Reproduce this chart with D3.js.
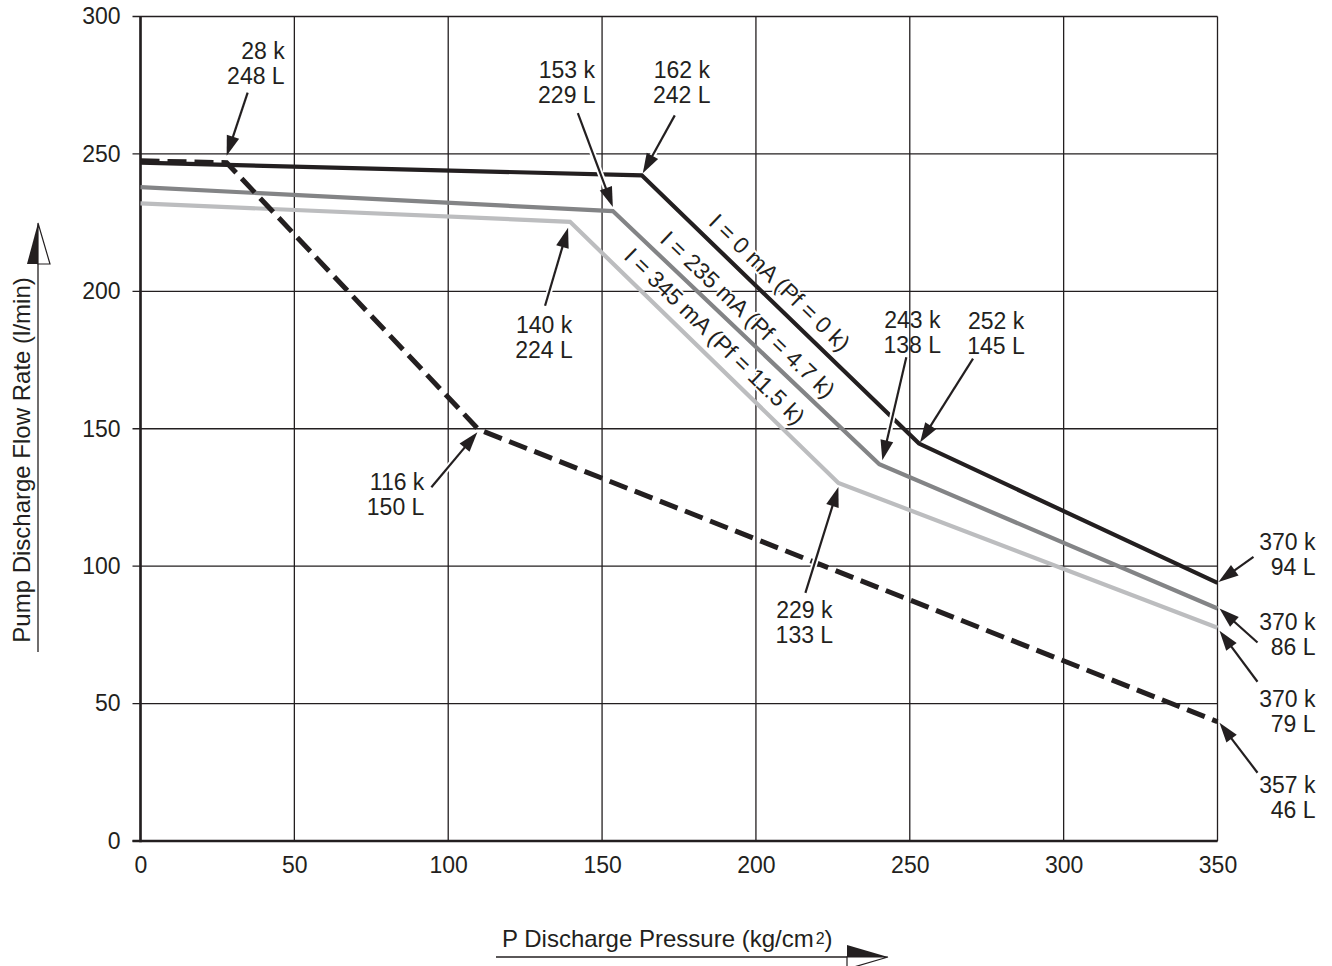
<!DOCTYPE html>
<html>
<head>
<meta charset="utf-8">
<script src="https://cdn.jsdelivr.net/npm/d3@7"></script>
<style>
  body { margin: 0; background: #fff; }
  svg { display: block; }
  text { font-family: "Liberation Sans", Arial, Helvetica, sans-serif; fill: #231f20; }
</style>
</head>
<body>
<svg id="chart" width="1332" height="966"></svg>
<script>
// ---- data ----
const pressureTicks = [0, 50, 100, 150, 200, 250, 300, 350];
const flowTicks = [0, 50, 100, 150, 200, 250, 300];

const curveNames = ["I = 0 mA (Pf = 0 k)", "I = 235 mA (Pf = 4.7 k)", "I = 345 mA (Pf = 11.5 k)"];

// flow (l/min) against discharge pressure (kg/cm2), one pair of arrays per curve
const pressure0mA = [0, 162.9, 253.0, 350];
const flow0mA = [246.8, 242.2, 144.6, 93.9];
const pressure235mA = [0, 153.5, 240.1, 350];
const flow235mA = [237.9, 229.2, 137.1, 84.6];
const pressure345mA = [0, 139.6, 226.8, 350];
const flow345mA = [232.0, 225.3, 130.3, 77.6];
const pressureLimit = [0, 28.0, 109.8, 350];
const flowLimit = [247.5, 246.8, 149.8, 43.4];

// callouts: text lines, which curve and which break point they point to
const calloutText = [
  ["28 k", "248 L"], ["162 k", "242 L"], ["153 k", "229 L"], ["140 k", "224 L"],
  ["116 k", "150 L"], ["243 k", "138 L"], ["252 k", "145 L"], ["229 k", "133 L"],
  ["370 k", "94 L"], ["370 k", "86 L"], ["370 k", "79 L"], ["357 k", "46 L"]
];
const calloutCurve = [3, 0, 1, 2, 3, 1, 0, 2, 0, 1, 2, 3];
const calloutPoint = [1, 1, 1, 1, 2, 2, 2, 2, 3, 3, 3, 3];

// ---- layout ----
const INK = "#231f20";
const FONT = 23;
const TITLE_FONT = 24;
const curveStyle = [
  { color: INK, width: 4.2, dash: null },
  { color: "#838486", width: 4.2, dash: null },
  { color: "#bcbdbf", width: 4.2, dash: null },
  { color: INK, width: 5, dash: "19,8" }
];
// pixel offsets from the pointed-at break point: arrow tip, arrow tail, first text baseline
const calloutLayout = [
  { tip: [0, -7], tail: [21, -70], label: [58, -104], anchor: "end" },
  { tip: [1, -2], tail: [33, -60], label: [40, -97], anchor: "middle" },
  { tip: [0, -4], tail: [-35, -98], label: [-46, -133], anchor: "middle" },
  { tip: [-2, 6], tail: [-25, 84], label: [-26, 111], anchor: "middle" },
  { tip: [-1, 3], tail: [-47, 58], label: [-54, 61], anchor: "end" },
  { tip: [3, -4], tail: [27, -107], label: [33, -136], anchor: "middle" },
  { tip: [1, -1], tail: [54, -85], label: [77, -115], anchor: "middle" },
  { tip: [0, 4], tail: [-33, 110], label: [-34, 135], anchor: "middle" },
  { tip: [1, -1], tail: [36, -26], label: [98, -33], anchor: "end" },
  { tip: [2, 0], tail: [40, 34], label: [98, 22], anchor: "end" },
  { tip: [2, 3], tail: [40, 54], label: [98, 79], anchor: "end" },
  { tip: [2, 1], tail: [40, 51], label: [98, 71], anchor: "end" }
];
// position of each curve name along its steep segment (fraction) and distance above it
const curveLabelT = [0.45, 0.46, 0.49];
const curveLabelOffset = [19, 18, 19];

const curves = [
  d3.zip(pressure0mA, flow0mA),
  d3.zip(pressure235mA, flow235mA),
  d3.zip(pressure345mA, flow345mA),
  d3.zip(pressureLimit, flowLimit)
];

const svg = d3.select("#chart");
const x = d3.scaleLinear().domain([0, 350]).range([140.5, 1217.5]);
const y = d3.scaleLinear().domain([0, 300]).range([841, 16.5]);

// ---- grid ----
const grid = svg.append("g").attr("stroke", INK).attr("stroke-width", 1.3);
grid.selectAll("line.h").data(flowTicks).join("line")
  .attr("class", "h")
  .attr("x1", x(0) - 8).attr("x2", x(350))
  .attr("y1", d => y(d)).attr("y2", d => y(d));
grid.selectAll("line.v").data(pressureTicks).join("line")
  .attr("class", "v")
  .attr("x1", d => x(d)).attr("x2", d => x(d))
  .attr("y1", y(300)).attr("y2", y(0));

// ---- axes ----
const yAxis = svg.append("g")
  .attr("transform", `translate(${x(0)},0)`)
  .call(d3.axisLeft(y).tickValues(flowTicks).tickSize(0).tickPadding(20).tickFormat(d3.format("d")));
const xAxis = svg.append("g")
  .attr("transform", `translate(0,${y(0)})`)
  .call(d3.axisBottom(x).tickValues(pressureTicks).tickSize(0).tickPadding(16).tickFormat(d3.format("d")));
[yAxis, xAxis].forEach(a => {
  a.select(".domain").remove();
  a.selectAll("text").attr("font-size", FONT).attr("fill", INK)
    .attr("font-family", "'Liberation Sans', Arial, Helvetica, sans-serif");
});

svg.append("line").attr("stroke", INK).attr("stroke-width", 2.6)
  .attr("x1", x(0)).attr("x2", x(0)).attr("y1", y(300)).attr("y2", y(0) + 1.3);
svg.append("line").attr("stroke", INK).attr("stroke-width", 2.6)
  .attr("x1", x(0) - 8).attr("x2", x(350)).attr("y1", y(0)).attr("y2", y(0));

// ---- curves ----
const line = d3.line().x(d => x(d[0])).y(d => y(d[1]));
const drawOrder = [2, 1, 0, 3];
svg.append("g").selectAll("path").data(drawOrder).join("path")
  .attr("d", i => line(curves[i]))
  .attr("fill", "none")
  .attr("stroke", i => curveStyle[i].color)
  .attr("stroke-width", i => curveStyle[i].width)
  .attr("stroke-dasharray", i => curveStyle[i].dash)
  .attr("stroke-linejoin", "miter")
  .attr("stroke-linecap", "butt");

// ---- curve names along the steep segments ----
curveNames.forEach((name, i) => {
  const c = curves[i];
  const p1 = [x(c[1][0]), y(c[1][1])];
  const p2 = [x(c[2][0]), y(c[2][1])];
  const dx = p2[0] - p1[0], dy = p2[1] - p1[1];
  const len = Math.hypot(dx, dy);
  const ux = dx / len, uy = dy / len;
  const t = curveLabelT[i], off = curveLabelOffset[i];
  const cx = p1[0] + t * dx + off * uy;
  const cy = p1[1] + t * dy - off * ux;
  const ang = Math.atan2(dy, dx) * 180 / Math.PI;
  svg.append("text")
    .attr("transform", `translate(${cx},${cy}) rotate(${ang})`)
    .attr("text-anchor", "middle")
    .attr("dy", "0.35em")
    .attr("font-size", FONT)
    .attr("stroke", "#fff").attr("stroke-width", 4).attr("paint-order", "stroke")
    .text(name);
});

// ---- callouts ----
const callouts = svg.append("g");
calloutText.forEach((lines, k) => {
  const pt = curves[calloutCurve[k]][calloutPoint[k]];
  const px = x(pt[0]), py = y(pt[1]);
  const L = calloutLayout[k];
  const tip = [px + L.tip[0], py + L.tip[1]];
  const tail = [px + L.tail[0], py + L.tail[1]];
  const dx = tip[0] - tail[0], dy = tip[1] - tail[1];
  const len = Math.hypot(dx, dy);
  const ux = dx / len, uy = dy / len;
  const headL = 20, headW = 6.5;
  const base = [tip[0] - headL * ux, tip[1] - headL * uy];

  callouts.append("line")
    .attr("x1", tail[0]).attr("y1", tail[1])
    .attr("x2", base[0] + 3 * ux).attr("y2", base[1] + 3 * uy)
    .attr("stroke", "#fff").attr("stroke-width", 6);
  callouts.append("line")
    .attr("x1", tail[0]).attr("y1", tail[1])
    .attr("x2", base[0] + 2 * ux).attr("y2", base[1] + 2 * uy)
    .attr("stroke", INK).attr("stroke-width", 2.2);
  callouts.append("path")
    .attr("d", `M${tip[0]},${tip[1]}L${base[0] - headW * uy},${base[1] + headW * ux}L${base[0] + headW * uy},${base[1] - headW * ux}Z`)
    .attr("fill", INK);

  const txt = callouts.append("text")
    .attr("font-size", FONT)
    .attr("text-anchor", L.anchor);
  lines.forEach((s, j) => {
    txt.append("tspan")
      .attr("x", px + L.label[0])
      .attr("y", py + L.label[1] + j * 25)
      .text(s);
  });
});

// ---- axis titles with direction arrows ----
svg.append("text")
  .attr("transform", "translate(30,460) rotate(-90)")
  .attr("text-anchor", "middle")
  .attr("font-size", TITLE_FONT)
  .text("Pump Discharge Flow Rate (l/min)");
svg.append("line").attr("stroke", INK).attr("stroke-width", 1.3)
  .attr("x1", 38).attr("x2", 38).attr("y1", 652).attr("y2", 262);
svg.append("path").attr("d", "M38,223L27,264L38,264Z").attr("fill", INK);
svg.append("path").attr("d", "M38,223L50,264L38,264Z")
  .attr("fill", "#fff").attr("stroke", INK).attr("stroke-width", 1.2).attr("stroke-linejoin", "miter");

const xt = svg.append("text")
  .attr("x", 502).attr("y", 947)
  .attr("font-size", TITLE_FONT);
xt.append("tspan").text("P Discharge Pressure (kg/cm");
xt.append("tspan").attr("font-size", 16).attr("dy", -3).attr("dx", 2).text("2");
xt.append("tspan").attr("dy", 3).text(")");
svg.append("line").attr("stroke", INK).attr("stroke-width", 1.3)
  .attr("x1", 496).attr("x2", 850).attr("y1", 957).attr("y2", 957);
svg.append("path").attr("d", "M888,957L847,945L847,957Z").attr("fill", INK);
svg.append("path").attr("d", "M888,957L847,969L847,957Z")
  .attr("fill", "#fff").attr("stroke", INK).attr("stroke-width", 1.2);
</script>
</body>
</html>
